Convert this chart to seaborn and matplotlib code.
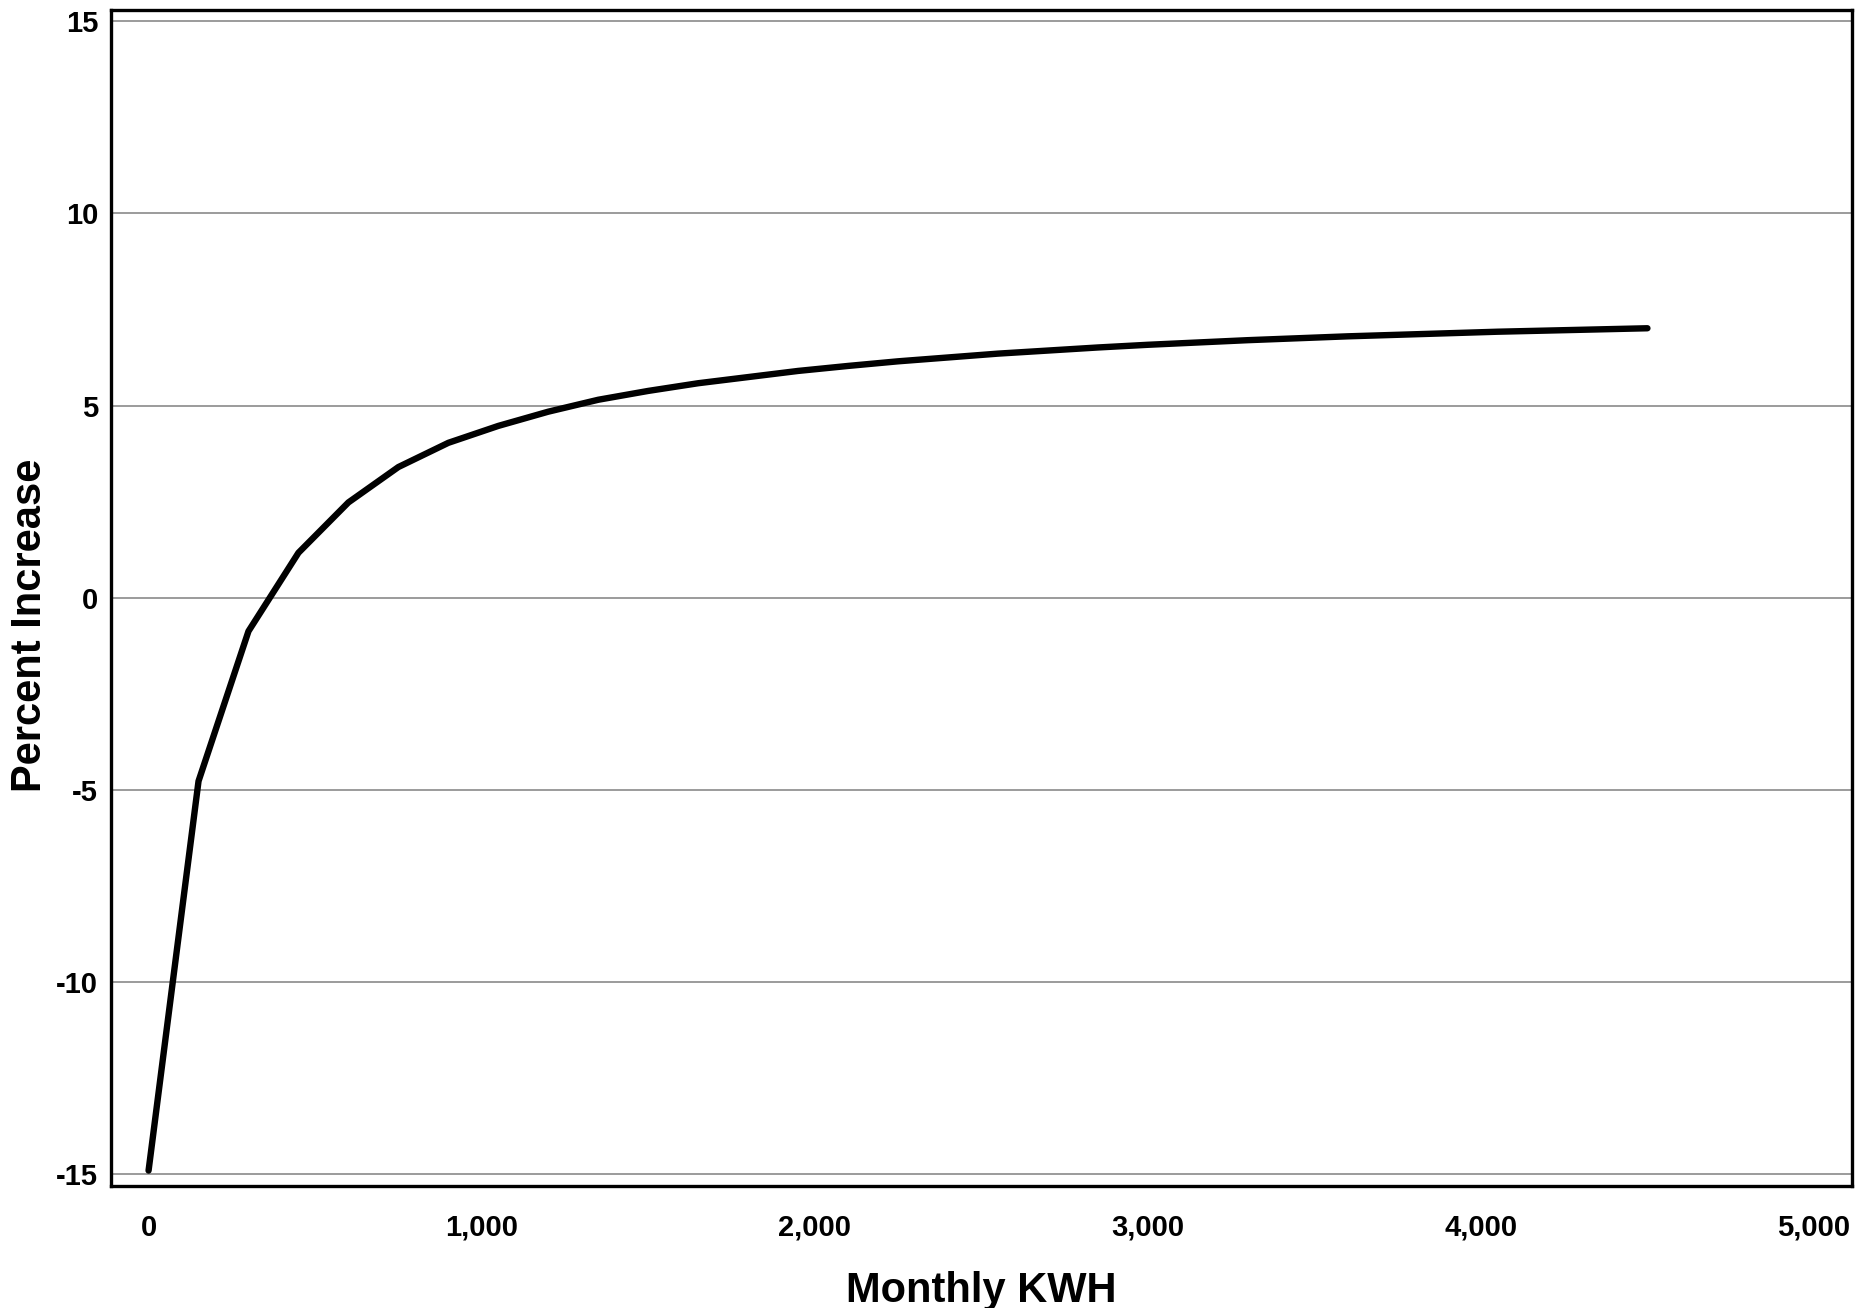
import pandas as pd
import numpy as np
import matplotlib
matplotlib.use("Agg")
import matplotlib.pyplot as plt
from matplotlib.ticker import FuncFormatter
import seaborn as sns

sns.set_style("white")
plt.rcParams["font.family"] = ["Liberation Sans", "DejaVu Sans"]
plt.rcParams["axes.unicode_minus"] = False

# monthly usage (kWh) and percent increase
kwh = [0, 150, 300, 450, 600, 750, 900, 1050, 1200, 1350, 1500, 1650, 1800, 1950,
       2100, 2250, 2400, 2550, 2700, 2850, 3000, 3150, 3300, 3450, 3600, 3750,
       3900, 4050, 4200, 4350, 4500]
pct = [-14.9, -4.77, -0.87, 1.17, 2.48, 3.40, 4.03, 4.47, 4.84, 5.15, 5.38, 5.58,
       5.74, 5.90, 6.03, 6.15, 6.25, 6.35, 6.43, 6.51, 6.58, 6.64, 6.70, 6.75,
       6.80, 6.84, 6.88, 6.92, 6.95, 6.98, 7.01]
df = pd.DataFrame({"kwh": kwh, "pct": pct})

fig = plt.figure(figsize=(18.65, 13.08), dpi=100)
ax = fig.add_axes([0.0593, 0.0933, 0.9337, 0.8994])

sns.lineplot(data=df, x="kwh", y="pct", ax=ax, color="black", linewidth=4.6,
             solid_capstyle="round", zorder=3)

ax.set_xlim(-114, 5114)
ax.set_ylim(-15.3, 15.3)
ax.set_xticks([0, 1000, 2000, 3000, 4000, 5000])
ax.set_yticks([-15, -10, -5, 0, 5, 10, 15])
ax.xaxis.set_major_formatter(FuncFormatter(lambda v, p: f"{int(v):,}"))
ax.yaxis.grid(True, color="#808080", linewidth=1.1)
ax.xaxis.grid(False)

for s in ax.spines.values():
    s.set_color("black")
    s.set_linewidth(2.4)

ax.tick_params(axis="x", direction="out", length=9, width=1.2, color="#808080",
               labelsize=21, labelcolor="black", pad=11)
ax.tick_params(axis="y", direction="out", length=5, width=1.0, color="black",
               labelsize=21, labelcolor="black", pad=4)
for lbl in ax.get_xticklabels() + ax.get_yticklabels():
    lbl.set_fontweight("bold")

ax.set_xlabel("Monthly KWH", fontsize=30, fontweight="bold", color="black")
ax.set_ylabel("Percent Increase", fontsize=30, fontweight="bold", color="black")
ax.xaxis.set_label_coords(0.5, -0.089)
ax.yaxis.set_label_coords(-0.0465, 0.477)
ax.xaxis.label.set_verticalalignment("center")
ax.yaxis.label.set_verticalalignment("center")
ax.yaxis.label.set_horizontalalignment("center")

fig.savefig("out.png", dpi=100)
